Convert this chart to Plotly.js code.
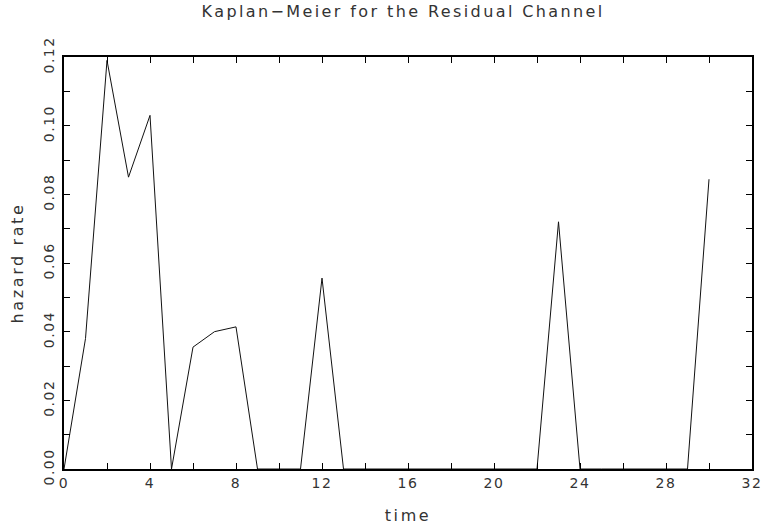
<!DOCTYPE html>
<html>
<head>
<meta charset="utf-8">
<script src="https://cdn.plot.ly/plotly-3.0.1.min.js"></script>
<style>
html,body{margin:0;padding:0;background:#fff;}
#chart{width:765px;height:530px;}
.gtitle{letter-spacing:2.4px;}
.xtitle,.ytitle{letter-spacing:2.6px;}
.xtick text,.ytick text{letter-spacing:1.5px;}
</style>
</head>
<body>
<div id="chart"></div>
<script>
var time = [0,1,2,3,4,5,6,7,8,9,10,11,12,13,14,15,16,17,18,19,20,21,22,23,24,25,26,27,28,29,30];
var hazard = [0,0.038,0.119,0.085,0.103,0,0.0355,0.040,0.0414,0,0,0,0.0556,0,0,0,0,0,0,0,0,0,0,0.072,0,0,0,0,0,0,0.0844];
var xTickVals = [0,4,8,12,16,20,24,28,32];
var yTickVals = [0,0.02,0.04,0.06,0.08,0.10,0.12];
var yTickText = ["0.00","0.02","0.04","0.06","0.08","0.10","0.12"];

var family = "DejaVu Sans, sans-serif";
var tickFont = {family: family, size: 14, color: "#333"};
var titleFont = {family: family, size: 16, color: "#333"};

Plotly.newPlot("chart", [{
  x: time, y: hazard, type: "scatter", mode: "lines",
  line: {color: "#111", width: 1}, showlegend: false
}], {
  width: 765, height: 530,
  margin: {l: 64, r: 13, t: 57, b: 61},
  paper_bgcolor: "#fff", plot_bgcolor: "#fff",
  font: tickFont,
  title: {text: "Kaplan\u2212Meier for the Residual Channel", xref: "container", yref: "container",
          x: 0.527, xanchor: "center", y: 0.99, yanchor: "top", font: titleFont},
  xaxis: {
    range: [0, 32], tickmode: "array", tickvals: xTickVals,
    ticks: "inside", ticklen: 6, tickcolor: "#000", tickwidth: 1,
    minor: {dtick: 2, tick0: 0, ticks: "inside", ticklen: 6, tickcolor: "#000", showgrid: false},
    showgrid: false, zeroline: false,
    showline: true, linecolor: "#000", linewidth: 2, mirror: "ticks",
    title: {text: "time", font: titleFont, standoff: 20},
    tickfont: tickFont
  },
  yaxis: {
    range: [0, 0.12], tickmode: "array", tickvals: yTickVals, ticktext: yTickText,
    tickangle: -90, ticklabelstandoff: 2,
    ticks: "inside", ticklen: 6, tickcolor: "#000", tickwidth: 1,
    minor: {dtick: 0.01, tick0: 0, ticks: "inside", ticklen: 6, tickcolor: "#000", showgrid: false},
    showgrid: false, zeroline: false,
    showline: true, linecolor: "#000", linewidth: 2, mirror: "ticks",
    title: {text: "hazard rate", font: titleFont, standoff: 14},
    tickfont: tickFont
  }
}, {displayModeBar: false, staticPlot: true});
</script>
</body>
</html>
